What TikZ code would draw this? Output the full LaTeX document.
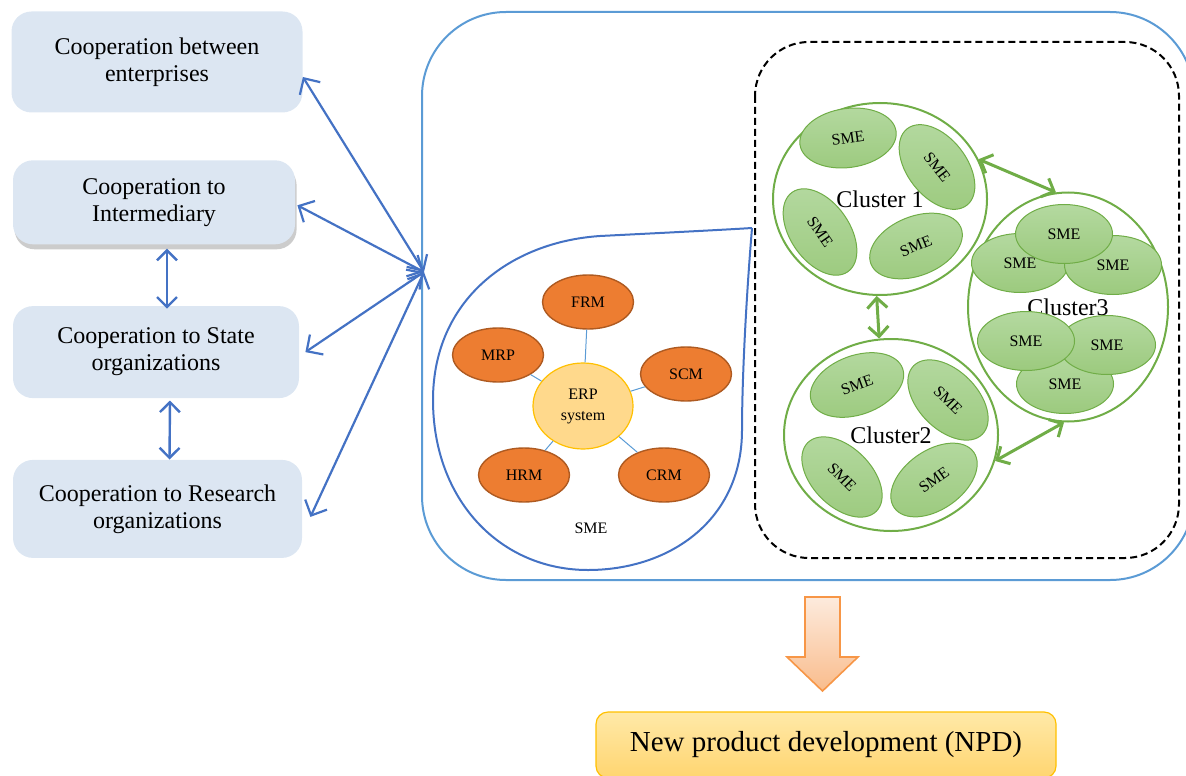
\documentclass[tikz,border=0pt]{standalone}
\usepackage{fontspec}
\setmainfont{Liberation Serif}
\usetikzlibrary{arrows.meta,positioning,shapes.geometric,shadows}

\definecolor{coopfill}{HTML}{DCE6F2}
\definecolor{linkblue}{HTML}{4472C4}
\definecolor{frameblue}{HTML}{5B9BD5}
\definecolor{modfill}{HTML}{ED7D31}
\definecolor{modedge}{HTML}{AE5A21}
\definecolor{erpfill}{HTML}{FFD98C}
\definecolor{erpedge}{HTML}{FFC000}
\definecolor{smegreen}{HTML}{70AD47}
\definecolor{smelight}{HTML}{B4D9A0}
\definecolor{smedark}{HTML}{9CCA7E}
\definecolor{npdtop}{HTML}{FFE9A8}
\definecolor{npdbottom}{HTML}{FFD570}
\definecolor{arrowtop}{HTML}{FDEBDD}
\definecolor{arrowbottom}{HTML}{F9BC8C}
\definecolor{arrowedge}{HTML}{F79646}

\begin{document}
\begin{tikzpicture}[
    x=0.5pt, y=-0.5pt,
    every node/.style={font=\fontsize{8}{10.5}\selectfont},
    coop/.style={fill=coopfill, rounded corners=10pt, align=center, inner sep=0pt, font=\fontsize{12}{13.5}\selectfont},
    module/.style={ellipse, draw=modedge, fill=modfill, line width=0.7pt, minimum width=45.5pt, minimum height=27pt, inner sep=0pt},
    erp/.style={ellipse, draw=erpedge, fill=erpfill, line width=0.6pt, minimum width=50pt, minimum height=43pt, inner sep=0pt, align=center},
    cluster/.style={ellipse, draw=smegreen, line width=1pt, inner sep=0pt, font=\fontsize{12}{14}\selectfont},
    smenode/.style={ellipse, draw=smegreen, line width=0.5pt, top color=smelight, bottom color=smedark, minimum width=48.5pt, minimum height=29.5pt, inner sep=0pt},
    spoke/.style={draw=frameblue, line width=0.5pt},
    bluelink/.style={{Straight Barb[length=6pt,width=12pt]}-{Straight Barb[length=6pt,width=12pt]}, draw=linkblue, line width=1.1pt},
    stacklink/.style={{Straight Barb[length=5pt,width=10pt]}-{Straight Barb[length=5pt,width=10pt]}, draw=linkblue, line width=1.2pt},
    greenlink/.style={{Straight Barb[length=5pt,width=10pt]}-{Straight Barb[length=5pt,width=10pt]}, draw=smegreen, line width=1.5pt}
]
\useasboundingbox (0,0) rectangle (1186,775);

% cooperation boxes
\node[coop, minimum width=145.5pt, minimum height=50.5pt] (enterprises) at (157,62) {Cooperation between\\enterprises};
\node[coop, minimum width=141pt, minimum height=42pt, below=23.5pt of enterprises, xshift=-1.5pt,
      drop shadow={opacity=0.4, shadow xshift=0.8pt, shadow yshift=-2.5pt}] (intermediary) {Cooperation to\\Intermediary};
\node[coop, minimum width=143pt, minimum height=46pt, below=30.5pt of intermediary, xshift=1pt] (state) {Cooperation to State\\organizations};
\node[coop, minimum width=144.5pt, minimum height=49pt, below=30.5pt of state, xshift=0.75pt] (research) {Cooperation to Research\\organizations};

% frames
\draw[frameblue, line width=1pt, rounded corners=42pt] (422,12) rectangle (1194,580);
\draw[black, line width=1pt, dash pattern=on 3.5pt off 2pt, rounded corners=27pt] (755,42) rectangle (1179,558);
\coordinate (hub) at (424,272);

% SME with ERP
\draw[linkblue, line width=1pt] (752,228) .. controls (746,300) and (742,380) .. (742,430)
    .. controls (742,520) and (670,570) .. (588,570)
    .. controls (500,570) and (433,500) .. (433,400)
    .. controls (433,300) and (510,242) .. (600,236)
    .. controls (660,233) and (720,230) .. (752,228);
\node[erp] (erp) at (583,406) {ERP\\system};
\node[module] (frm) at (588,302) {FRM};
\node[module] (mrp) at (498,355) {MRP};
\node[module] (scm) at (686,374) {SCM};
\node[module] (hrm) at (524,475) {HRM};
\node[module] (crm) at (664,475) {CRM};
\foreach \m in {frm,mrp,scm,hrm,crm}
    \draw[spoke] (erp) -- (\m);
\node (smelabel) at (591,528) {SME};

% clusters
\node[cluster, minimum width=107pt, minimum height=96pt] (c1) at (880,199) {Cluster 1};
\node[smenode, rotate=8] (c1a) at (848,138) {SME};
\node[smenode, rotate=-52] (c1b) at (937,167) {SME};
\node[smenode, rotate=-55] (c1c) at (820,232) {SME};
\node[smenode, rotate=22] (c1d) at (916,246) {SME};

\node[cluster, minimum width=107pt, minimum height=96pt] (c2) at (891,435) {Cluster2};
\node[smenode, rotate=20] (c2a) at (857,385) {SME};
\node[smenode, rotate=-45] (c2b) at (948,400) {SME};
\node[smenode, rotate=-45] (c2c) at (842,477) {SME};
\node[smenode, rotate=35] (c2d) at (934,480) {SME};

\node[cluster, minimum width=100pt, minimum height=114.5pt] (c3) at (1068,307) {Cluster3};
\node[smenode] (c3a) at (1020,263) {SME};
\node[smenode] (c3b) at (1113,265) {SME};
\node[smenode] (c3c) at (1064,234) {SME};
\node[smenode] (c3d) at (1065,384) {SME};
\node[smenode] (c3e) at (1107,345) {SME};
\node[smenode] (c3f) at (1026,341) {SME};

% NPD
\filldraw[draw=arrowedge, line width=0.8pt, top color=arrowtop, bottom color=arrowbottom]
    (805,597) -- (840,597) -- (840,657) -- (858,657) -- (822.5,691) -- (787,657) -- (805,657) -- cycle;
\node[draw=erpedge, line width=0.6pt, rounded corners=6pt, top color=npdtop, bottom color=npdbottom,
      minimum width=230pt, minimum height=33pt, font=\fontsize{14.5}{16}\selectfont] (npd) at (826,745) {New product development (NPD)};

% links
\draw[bluelink] ([yshift=-7.5pt]enterprises.east) -- (hub);
\draw[bluelink] ([xshift=1pt,yshift=-1.5pt]intermediary.east) -- (hub);
\draw[bluelink] ([xshift=3pt]state.east) -- (hub);
\draw[bluelink] ([xshift=4pt,yshift=-4pt]research.east) -- (hub);
\draw[stacklink] ([xshift=6.5pt,yshift=-2pt]intermediary.south) -- ([xshift=5.5pt,yshift=-1.5pt]state.north);
\draw[stacklink] ([xshift=7pt,yshift=-1pt]state.south) -- ([xshift=6pt]research.north);
\draw[greenlink] (c1.22) -- (c3.96);
\draw[greenlink] (c1.268) -- (c2.97);
\draw[greenlink] (c2.-14) -- (c3.268);
\end{tikzpicture}
\end{document}
